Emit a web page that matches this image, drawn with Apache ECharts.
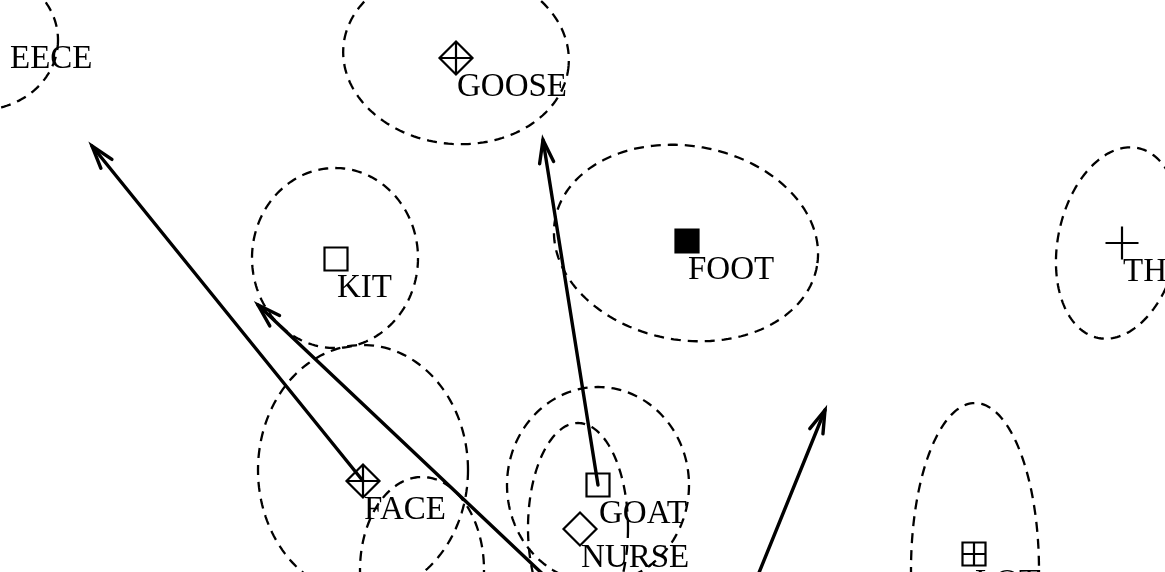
<!DOCTYPE html>
<html>
<head>
<meta charset="utf-8">
<title>vowel plot</title>
<script src="https://cdn.jsdelivr.net/npm/echarts@6/dist/echarts.min.js"></script>
<style>
  html, body { margin: 0; padding: 0; background: #fff; }
  #chart { width: 1165px; height: 572px; }
</style>
</head>
<body>
<div id="chart"></div>
<script>
// vowel means, in plot units (y grows downwards)
const vowelNames = ['EECE', 'GOOSE', 'FOOT', 'THOUGHT', 'KIT', 'FACE', 'GOAT', 'NURSE', 'LOT']
const vowelX = [9, 456, 687, 1122, 336, 363, 598, 580, 974]
const vowelY = [30, 58, 241, 243, 259, 481, 485, 529, 554]
const vowelMarks = ['none', 'diamondPlus', 'filledSquare', 'plus', 'square', 'diamondPlus', 'square', 'diamond', 'squarePlus']

// dispersion ellipses: centre, radii, tilt in degrees
const ellipseCx = [-20, 456, 686, 1118, 335, 363, 422, 598, 578, 975]
const ellipseCy = [40, 56, 243, 243, 258, 470, 570, 485, 528, 570]
const ellipseRx = [78, 113, 133, 60, 83, 105, 62, 91, 50, 64]
const ellipseRy = [70, 88, 97, 97, 90, 125, 93, 98, 105, 167]
const ellipseTilt = [0, 5, 10, 12, 0, 0, 0, 0, 0, 0]

// movement arrows (from -> to)
const arrowFromX = [549, 363, 598, 754]
const arrowFromY = [580, 481, 485, 585]
const arrowToX = [258, 92, 543, 825]
const arrowToY = [305, 146, 140, 410]

const markSymbols = {
  none: 'rect',
  square: 'rect',
  filledSquare: 'rect',
  diamond: 'diamond',
  plus: 'path://M0,-1L0,1M-1,0L1,0',
  diamondPlus: 'path://M0,-1L1,0L0,1L-1,0ZM0,-1L0,1M-1,0L1,0',
  squarePlus: 'path://M-1,-1L1,-1L1,1L-1,1ZM0,-1L0,1M-1,0L1,0'
}
const markSizes = { none: 1, square: 23, filledSquare: 23, diamond: 33, plus: 33, diamondPlus: 33, squarePlus: 23 }

const chart = echarts.init(document.getElementById('chart'))

const vowelData = vowelNames.map((name, i) => {
  const m = vowelMarks[i]
  return {
    name: name,
    value: [vowelX[i], vowelY[i]],
    symbol: markSymbols[m],
    symbolSize: markSizes[m],
    itemStyle: {
      color: m === 'filledSquare' ? '#000' : 'transparent',
      borderColor: m === 'none' ? 'transparent' : '#000',
      borderWidth: m === 'none' ? 0 : 2.2
    }
  }
})

const ellipseData = ellipseCx.map((cx, i) => [cx, ellipseCy[i], ellipseRx[i], ellipseRy[i], ellipseTilt[i]])
const arrowData = arrowFromX.map((x, i) => [x, arrowFromY[i], arrowToX[i], arrowToY[i]])

const option = {
  animation: false,
  backgroundColor: '#fff',
  grid: { left: 0, right: 0, top: 0, bottom: 0 },
  xAxis: { type: 'value', min: 0, max: 1165, show: false },
  yAxis: { type: 'value', min: 0, max: 572, inverse: true, show: false },
  series: [
    {
      type: 'custom',
      silent: true,
      data: ellipseData,
      encode: { x: 0, y: 1 },
      renderItem: function (params, api) {
        const c = api.coord([api.value(0), api.value(1)])
        const r = api.size([api.value(2), api.value(3)])
        const t = api.value(4) * Math.PI / 180
        const pts = []
        for (let k = 0; k <= 180; k++) {
          const a = k / 180 * Math.PI * 2
          const ex = r[0] * Math.cos(a)
          const ey = r[1] * Math.sin(a)
          pts.push([c[0] + ex * Math.cos(t) - ey * Math.sin(t), c[1] + ex * Math.sin(t) + ey * Math.cos(t)])
        }
        return {
          type: 'polyline',
          shape: { points: pts },
          style: { stroke: '#000', fill: null, lineWidth: 2.3, lineDash: [10, 7] }
        }
      }
    },
    {
      type: 'custom',
      silent: true,
      data: arrowData,
      encode: { x: [0, 2], y: [1, 3] },
      renderItem: function (params, api) {
        const a = api.coord([api.value(0), api.value(1)])
        const b = api.coord([api.value(2), api.value(3)])
        const ang = Math.atan2(a[1] - b[1], a[0] - b[0])
        const len = 24
        const spread = 0.3
        const h1 = [b[0] + len * Math.cos(ang + spread), b[1] + len * Math.sin(ang + spread)]
        const h2 = [b[0] + len * Math.cos(ang - spread), b[1] + len * Math.sin(ang - spread)]
        return {
          type: 'group',
          children: [
            {
              type: 'line',
              shape: { x1: a[0], y1: a[1], x2: b[0], y2: b[1] },
              style: { stroke: '#000', lineWidth: 3.4, lineCap: 'round' }
            },
            {
              type: 'polyline',
              shape: { points: [h1, b, h2] },
              style: { stroke: '#000', fill: null, lineWidth: 3.4, lineCap: 'round', lineJoin: 'miter' }
            }
          ]
        }
      }
    },
    {
      type: 'scatter',
      silent: true,
      data: vowelData,
      itemStyle: { opacity: 1 },
      emphasis: { disabled: true },
      label: {
        show: true,
        position: 'inside',
        align: 'left',
        verticalAlign: 'middle',
        offset: [1, 29],
        formatter: p => p.name,
        fontFamily: 'Liberation Serif',
        fontSize: 33,
        color: '#000',
        opacity: 1,
        textBorderWidth: 0
      }
    }
  ]
}

chart.setOption(option)
</script>
</body>
</html>
